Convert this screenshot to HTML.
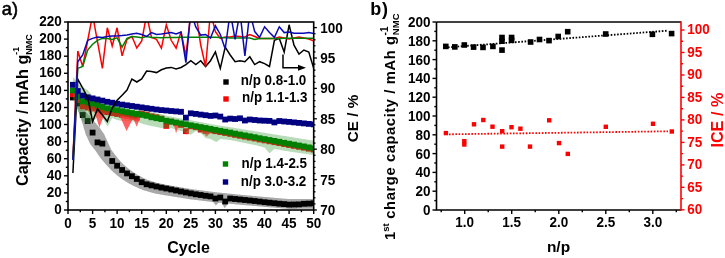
<!DOCTYPE html><html><head><meta charset="utf-8"><style>html,body{margin:0;padding:0;background:#fff;}svg{display:block;will-change:transform;}text{font-family:"Liberation Sans",sans-serif;}</style></head><body>
<svg width="725" height="258" viewBox="0 0 725 258">
<rect width="725" height="258" fill="#fff"/>
<defs><clipPath id="ca"><rect x="68.0" y="22.0" width="245.7" height="188.0"/></clipPath></defs>
<g clip-path="url(#ca)">
<polygon points="79.6,103.1 80.2,104.0 80.9,104.8 81.5,105.7 82.1,106.6 82.7,107.5 83.4,108.4 84.0,109.2 84.6,110.1 85.2,111.0 85.8,111.8 86.5,112.5 87.1,113.2 87.8,114.0 88.4,114.7 89.1,115.5 89.8,116.2 90.4,117.0 91.1,117.7 91.8,118.5 92.5,119.4 93.2,120.3 94.0,121.1 94.7,122.0 95.4,122.8 96.1,123.6 96.8,124.5 97.5,125.3 98.2,126.2 98.9,126.9 99.5,127.6 100.0,128.2 100.5,128.9 101.0,129.6 101.5,130.4 102.1,131.2 102.6,132.0 103.1,132.7 103.7,133.5 104.1,134.1 104.4,134.6 104.5,135.0 104.7,135.6 105.1,136.3 105.4,137.0 105.7,137.7 106.1,138.5 106.4,139.2 106.8,139.9 107.1,140.7 107.6,141.6 108.0,142.5 108.4,143.4 108.8,144.2 109.1,145.0 109.5,145.8 109.8,146.6 110.2,147.3 110.5,148.1 110.9,148.9 111.1,149.6 111.5,150.1 112.0,150.7 112.4,151.3 112.9,151.9 113.4,152.6 113.8,153.2 114.3,153.8 114.8,154.4 115.2,155.0 115.6,155.6 116.1,156.1 116.5,156.6 117.0,157.2 117.5,157.8 117.9,158.4 118.4,158.9 118.9,159.5 119.3,160.1 119.8,160.6 120.2,161.1 120.6,161.5 121.1,162.0 121.5,162.4 122.0,162.9 122.5,163.4 123.0,163.9 123.5,164.4 124.0,164.8 124.5,165.3 124.9,165.7 125.2,166.0 125.7,166.3 126.2,166.7 126.7,167.1 127.2,167.5 127.7,167.9 128.1,168.3 128.6,168.7 129.1,169.1 129.5,169.5 129.9,169.8 130.4,170.1 130.9,170.4 131.4,170.8 131.9,171.1 132.4,171.5 132.9,171.8 133.4,172.2 133.8,172.5 134.2,172.8 134.6,173.0 135.1,173.3 135.6,173.6 136.1,173.9 136.6,174.2 137.0,174.5 137.5,174.8 138.0,175.1 138.5,175.3 138.9,175.6 139.3,175.8 139.8,176.0 140.3,176.3 140.8,176.6 141.3,176.8 141.7,177.1 142.2,177.3 142.7,177.6 143.2,177.8 143.6,178.0 144.0,178.2 144.5,178.4 144.9,178.6 145.4,178.8 145.9,179.1 146.4,179.3 146.9,179.5 147.4,179.7 147.8,179.9 148.2,180.1 148.5,180.2 149.0,180.3 149.4,180.4 149.9,180.6 150.4,180.8 150.9,180.9 151.4,181.1 151.9,181.2 152.4,181.4 152.9,181.5 153.4,181.7 153.9,181.8 154.4,182.0 154.9,182.2 155.4,182.3 155.8,182.5 156.3,182.6 156.8,182.8 157.3,182.9 157.6,183.0 157.9,183.1 158.4,183.2 158.9,183.3 159.3,183.4 159.8,183.5 160.3,183.6 160.8,183.7 161.3,183.8 161.8,183.9 162.3,184.0 162.8,184.1 163.3,184.2 163.8,184.3 164.3,184.4 164.8,184.5 165.3,184.6 165.7,184.7 166.2,184.8 166.7,184.9 167.1,185.0 167.6,185.1 168.0,185.1 168.5,185.2 169.0,185.3 169.5,185.4 170.0,185.5 170.5,185.5 171.0,185.6 171.5,185.7 172.0,185.8 172.4,185.9 172.9,186.0 173.4,186.0 173.9,186.1 174.4,186.2 174.9,186.3 175.4,186.4 175.9,186.5 176.4,186.5 176.9,186.6 177.4,186.7 177.9,186.8 178.3,186.9 178.8,187.0 179.3,187.0 179.8,187.1 180.3,187.2 180.8,187.3 181.3,187.4 181.8,187.5 182.3,187.5 182.8,187.6 183.3,187.7 183.8,187.8 184.2,187.9 184.7,188.0 185.2,188.0 185.7,188.1 186.2,188.2 186.7,188.3 187.2,188.4 187.7,188.5 188.2,188.5 188.7,188.6 189.2,188.7 189.7,188.8 190.1,188.9 190.6,188.9 191.1,189.0 191.5,189.1 192.0,189.2 192.4,189.2 192.9,189.3 193.4,189.3 193.9,189.4 194.4,189.5 194.9,189.5 195.4,189.6 195.9,189.7 196.4,189.7 196.8,189.8 197.3,189.8 197.8,189.9 198.3,190.0 198.8,190.0 199.3,190.1 199.8,190.2 200.3,190.2 200.8,190.3 201.3,190.3 201.8,190.4 202.3,190.5 202.7,190.5 203.2,190.6 203.7,190.7 204.2,190.7 204.7,190.8 205.2,190.9 205.7,190.9 206.2,191.0 206.7,191.0 207.2,191.1 207.7,191.2 208.1,191.2 208.6,191.3 209.1,191.4 209.6,191.4 210.1,191.5 210.6,191.5 211.1,191.6 211.6,191.7 212.1,191.7 212.6,191.8 213.1,191.9 213.6,191.9 214.0,192.0 214.5,192.0 215.0,192.1 215.5,192.2 216.0,192.2 216.4,192.3 216.9,192.3 217.4,192.4 217.9,192.4 218.3,192.5 218.8,192.5 219.3,192.6 219.8,192.6 220.3,192.7 220.8,192.7 221.3,192.8 221.8,192.8 222.3,192.9 222.8,192.9 223.3,193.0 223.7,193.0 224.2,193.1 224.7,193.1 225.2,193.2 225.7,193.2 226.2,193.3 226.7,193.3 227.2,193.4 227.7,193.4 228.2,193.5 228.7,193.5 229.2,193.6 229.6,193.6 230.1,193.7 230.6,193.7 231.1,193.8 231.6,193.8 232.1,193.9 232.6,193.9 233.1,194.0 233.6,194.0 234.1,194.1 234.6,194.1 235.0,194.2 235.5,194.2 236.0,194.3 236.5,194.3 237.0,194.4 237.5,194.4 238.0,194.5 238.5,194.5 239.0,194.6 239.5,194.6 240.0,194.7 240.4,194.7 240.9,194.8 241.4,194.8 241.9,194.9 242.4,194.9 242.9,195.0 243.3,195.0 243.8,195.1 244.3,195.1 244.8,195.1 245.3,195.2 245.8,195.2 246.3,195.3 246.8,195.3 247.3,195.4 247.8,195.4 248.3,195.5 248.8,195.5 249.2,195.5 249.7,195.6 250.2,195.6 250.7,195.7 251.2,195.7 251.7,195.8 252.2,195.8 252.7,195.9 253.2,195.9 253.7,195.9 254.2,196.0 254.6,196.0 255.1,196.1 255.6,196.1 256.1,196.2 256.6,196.2 257.1,196.3 257.6,196.3 258.1,196.3 258.6,196.4 259.1,196.4 259.6,196.5 260.1,196.5 260.5,196.6 261.0,196.6 261.5,196.7 262.0,196.7 262.5,196.7 263.0,196.8 263.5,196.8 264.0,196.9 264.5,196.9 265.0,197.0 265.4,197.0 265.9,197.1 266.4,197.1 266.9,197.1 267.4,197.2 267.9,197.2 268.4,197.3 268.9,197.3 269.4,197.3 269.9,197.4 270.4,197.4 270.8,197.5 271.3,197.5 271.8,197.6 272.3,197.6 272.8,197.6 273.3,197.7 273.8,197.7 274.3,197.8 274.8,197.8 275.3,197.9 275.8,197.9 276.2,197.9 276.7,198.0 277.2,198.0 277.7,198.1 278.2,198.1 278.7,198.2 279.2,198.2 279.7,198.2 280.2,198.3 280.7,198.3 281.2,198.4 281.7,198.4 282.1,198.5 282.6,198.5 283.1,198.5 283.6,198.6 284.1,198.6 284.6,198.7 285.1,198.7 285.6,198.8 286.1,198.8 286.6,198.8 287.1,198.9 287.5,198.9 288.0,199.0 288.5,199.0 289.0,199.0 289.3,199.1 289.7,199.1 290.1,199.1 290.6,199.1 291.1,199.1 291.6,199.1 292.1,199.1 292.6,199.1 293.1,199.1 293.6,199.1 294.0,199.1 294.5,199.1 295.0,199.1 295.5,199.1 296.0,199.1 296.5,199.1 297.0,199.1 297.5,199.1 298.0,199.1 298.5,199.1 299.0,199.1 299.4,199.1 299.9,199.1 300.4,199.1 300.9,199.1 301.4,199.1 301.9,199.1 302.4,199.1 302.9,199.1 303.4,199.1 303.9,199.1 304.4,199.1 304.9,199.1 305.3,199.1 305.8,199.1 306.3,199.1 306.8,199.1 307.3,199.1 307.8,199.1 308.3,199.1 308.8,199.1 309.3,199.1 309.8,199.1 310.3,199.1 310.8,199.1 311.2,199.1 311.7,199.1 312.2,199.1 312.7,199.1 313.2,199.1 313.7,199.1 313.7,208.8 313.2,208.8 312.7,208.8 312.2,208.8 311.7,208.8 311.2,208.8 310.8,208.8 310.3,208.8 309.8,208.8 309.3,208.8 308.8,208.8 308.3,208.8 307.8,208.8 307.3,208.8 306.8,208.8 306.3,208.8 305.8,208.8 305.3,208.8 304.9,208.8 304.4,208.8 303.9,208.8 303.4,208.8 302.9,208.8 302.4,208.8 301.9,208.8 301.4,208.8 300.9,208.8 300.4,208.8 299.9,208.8 299.4,208.8 299.0,208.8 298.5,208.8 298.0,208.8 297.5,208.8 297.0,208.9 296.5,208.9 296.0,208.9 295.5,208.9 295.0,208.9 294.5,208.9 294.0,208.9 293.6,208.9 293.1,208.9 292.6,208.9 292.1,208.9 291.6,208.9 291.1,208.9 290.6,208.9 290.1,208.9 289.5,208.9 288.9,208.9 288.3,208.8 287.7,208.8 287.2,208.7 286.7,208.7 286.2,208.7 285.7,208.6 285.2,208.6 284.7,208.5 284.3,208.5 283.8,208.5 283.3,208.4 282.8,208.4 282.3,208.3 281.8,208.3 281.3,208.2 280.8,208.2 280.3,208.2 279.8,208.1 279.3,208.1 278.9,208.0 278.4,208.0 277.9,208.0 277.4,207.9 276.9,207.9 276.4,207.8 275.9,207.8 275.4,207.8 274.9,207.7 274.4,207.7 273.9,207.6 273.4,207.6 273.0,207.6 272.5,207.5 272.0,207.5 271.5,207.4 271.0,207.4 270.5,207.4 270.0,207.3 269.5,207.3 269.0,207.2 268.5,207.2 268.0,207.2 267.5,207.1 267.1,207.1 266.6,207.0 266.1,207.0 265.6,207.0 265.1,206.9 264.6,206.9 264.1,206.8 263.6,206.8 263.1,206.7 262.6,206.7 262.1,206.7 261.6,206.6 261.1,206.6 260.6,206.5 260.2,206.5 259.7,206.4 259.2,206.4 258.7,206.4 258.2,206.3 257.7,206.3 257.2,206.2 256.7,206.2 256.2,206.1 255.7,206.1 255.2,206.1 254.7,206.0 254.3,206.0 253.8,205.9 253.3,205.9 252.8,205.9 252.3,205.8 251.8,205.8 251.3,205.7 250.8,205.7 250.3,205.6 249.8,205.6 249.3,205.6 248.8,205.5 248.4,205.5 247.9,205.4 247.4,205.4 246.9,205.3 246.4,205.3 245.9,205.3 245.4,205.2 244.9,205.2 244.4,205.1 243.9,205.1 243.4,205.0 242.9,205.0 242.5,205.0 242.0,204.9 241.5,204.9 241.0,204.8 240.5,204.8 240.0,204.7 239.5,204.7 239.0,204.6 238.5,204.6 238.0,204.6 237.5,204.5 237.0,204.5 236.5,204.4 236.0,204.4 235.5,204.3 235.0,204.3 234.5,204.2 234.0,204.2 233.5,204.1 233.1,204.1 232.6,204.0 232.1,204.0 231.6,203.9 231.1,203.9 230.6,203.8 230.1,203.8 229.6,203.7 229.1,203.7 228.6,203.6 228.1,203.6 227.6,203.5 227.2,203.5 226.7,203.4 226.2,203.4 225.7,203.3 225.2,203.3 224.7,203.2 224.2,203.2 223.7,203.1 223.2,203.1 222.7,203.0 222.2,203.0 221.7,203.0 221.3,202.9 220.8,202.9 220.3,202.8 219.8,202.8 219.3,202.7 218.8,202.7 218.3,202.6 217.8,202.6 217.3,202.5 216.8,202.5 216.3,202.4 215.8,202.4 215.3,202.3 214.8,202.3 214.2,202.2 213.7,202.1 213.2,202.1 212.7,202.0 212.2,202.0 211.8,201.9 211.3,201.8 210.8,201.8 210.3,201.7 209.8,201.7 209.3,201.6 208.8,201.5 208.3,201.5 207.8,201.4 207.3,201.4 206.8,201.3 206.3,201.3 205.9,201.2 205.4,201.1 204.9,201.1 204.4,201.0 203.9,201.0 203.4,200.9 202.9,200.8 202.4,200.8 201.9,200.7 201.4,200.7 200.9,200.6 200.4,200.5 199.9,200.5 199.5,200.4 199.0,200.4 198.5,200.3 198.0,200.2 197.5,200.2 197.0,200.1 196.5,200.1 196.0,200.0 195.5,200.0 195.0,199.9 194.5,199.8 194.0,199.8 193.6,199.7 193.1,199.7 192.6,199.6 192.1,199.5 191.6,199.5 191.1,199.4 190.6,199.4 190.0,199.3 189.4,199.2 188.9,199.1 188.4,199.0 187.9,199.0 187.4,198.9 186.9,198.8 186.4,198.7 185.9,198.6 185.5,198.6 185.0,198.5 184.5,198.4 184.0,198.3 183.5,198.2 183.0,198.2 182.5,198.1 182.0,198.0 181.5,197.9 181.0,197.8 180.5,197.8 180.0,197.7 179.5,197.6 179.1,197.5 178.6,197.4 178.1,197.4 177.6,197.3 177.1,197.2 176.6,197.1 176.1,197.1 175.6,197.0 175.1,196.9 174.6,196.8 174.1,196.7 173.6,196.7 173.1,196.6 172.7,196.5 172.2,196.4 171.7,196.3 171.2,196.3 170.7,196.2 170.2,196.1 169.7,196.0 169.2,195.9 168.7,195.9 168.2,195.8 167.7,195.7 167.2,195.6 166.7,195.6 166.3,195.5 165.7,195.4 165.1,195.3 164.6,195.2 164.0,195.1 163.5,195.0 163.0,194.9 162.5,194.8 162.1,194.8 161.6,194.7 161.1,194.6 160.6,194.5 160.1,194.4 159.6,194.3 159.1,194.2 158.6,194.2 158.1,194.1 157.6,194.0 157.1,193.9 156.6,193.8 156.1,193.7 155.5,193.6 154.8,193.5 154.1,193.3 153.5,193.1 153.0,193.0 152.5,192.8 152.0,192.7 151.5,192.5 151.0,192.4 150.5,192.3 150.0,192.1 149.5,192.0 149.0,191.8 148.5,191.7 148.0,191.6 147.5,191.4 147.0,191.3 146.5,191.1 146.0,191.0 145.5,190.8 144.9,190.7 144.2,190.4 143.5,190.2 142.8,189.9 142.3,189.7 141.8,189.5 141.3,189.3 140.8,189.1 140.3,188.9 139.8,188.7 139.3,188.5 138.6,188.2 138.0,187.9 137.4,187.6 136.9,187.4 136.4,187.2 135.9,186.9 135.4,186.7 134.9,186.5 134.4,186.2 133.8,186.0 133.2,185.7 132.5,185.3 132.0,185.0 131.4,184.7 130.9,184.5 130.4,184.2 129.9,183.9 129.4,183.7 128.9,183.4 128.3,183.1 127.7,182.7 127.0,182.3 126.4,181.9 125.9,181.6 125.4,181.3 124.9,180.9 124.4,180.6 123.9,180.3 123.3,180.0 122.8,179.6 122.1,179.2 121.5,178.7 120.9,178.2 120.4,177.9 119.9,177.5 119.4,177.1 118.9,176.7 118.4,176.3 117.9,176.0 117.3,175.5 116.6,174.9 115.9,174.3 115.3,173.8 114.8,173.3 114.3,172.9 113.7,172.4 113.2,171.9 112.7,171.5 112.2,171.0 111.6,170.5 111.0,169.9 110.4,169.2 109.8,168.6 109.3,168.0 108.8,167.5 108.3,167.0 107.8,166.4 107.3,165.9 106.8,165.3 106.2,164.8 105.7,164.1 105.1,163.4 104.5,162.8 104.0,162.2 103.5,161.6 103.0,161.0 102.5,160.4 102.0,159.8 101.5,159.3 100.9,158.6 100.3,157.8 99.7,156.9 99.2,156.1 98.7,155.4 98.2,154.7 97.7,154.0 97.2,153.3 96.8,152.6 96.3,151.9 95.9,151.3 95.5,150.7 95.2,150.3 94.7,149.8 94.3,149.2 93.8,148.5 93.3,147.9 92.8,147.3 92.3,146.7 91.9,146.1 91.2,145.3 90.5,144.4 89.9,143.2 89.4,142.2 89.0,141.4 88.6,140.5 88.2,139.7 87.8,138.8 87.4,138.0 87.0,137.1 86.5,136.2 86.0,135.2 85.6,134.0 85.3,132.9 85.0,131.8 84.7,130.8 84.3,129.7 84.0,128.7 83.7,127.7 83.4,126.6 83.1,125.6 82.8,124.6 82.6,123.8 82.3,122.9 81.9,121.9 81.6,121.0 81.3,120.0 81.0,119.1 80.7,118.1 80.3,117.2 80.0,116.2 79.7,115.2 79.3,114.1 78.9,113.1 78.6,112.1 78.2,111.0 77.8,110.0 77.5,109.0 77.1,108.0 76.8,107.0 76.4,105.9 76.1,104.9" fill="#a8a8a8"/>
<polygon points="212.0,200.4 219.8,201.2 215.9,205.5" fill="#a8a8a8"/>
<polygon points="220.8,201.4 228.7,202.2 224.8,208.2" fill="#a8a8a8"/>
<rect x="70.0" y="94.6" width="5.8" height="5.8" fill="#000"/>
<rect x="74.9" y="100.6" width="5.8" height="5.8" fill="#000"/>
<rect x="79.8" y="112.1" width="5.8" height="5.8" fill="#000"/>
<rect x="84.8" y="118.1" width="5.8" height="5.8" fill="#000"/>
<rect x="89.7" y="129.7" width="5.8" height="5.8" fill="#000"/>
<rect x="94.6" y="139.5" width="5.8" height="5.8" fill="#000"/>
<rect x="99.5" y="140.7" width="5.8" height="5.8" fill="#000"/>
<rect x="104.4" y="150.5" width="5.8" height="5.8" fill="#000"/>
<rect x="109.3" y="158.1" width="5.8" height="5.8" fill="#000"/>
<rect x="114.2" y="162.8" width="5.8" height="5.8" fill="#000"/>
<rect x="119.2" y="167.1" width="5.8" height="5.8" fill="#000"/>
<rect x="124.1" y="170.5" width="5.8" height="5.8" fill="#000"/>
<rect x="129.0" y="173.3" width="5.8" height="5.8" fill="#000"/>
<rect x="133.9" y="176.1" width="5.8" height="5.8" fill="#000"/>
<rect x="138.8" y="179.3" width="5.8" height="5.8" fill="#000"/>
<rect x="143.7" y="181.4" width="5.8" height="5.8" fill="#000"/>
<rect x="148.6" y="182.5" width="5.8" height="5.8" fill="#000"/>
<rect x="153.6" y="183.6" width="5.8" height="5.8" fill="#000"/>
<rect x="158.5" y="184.7" width="5.8" height="5.8" fill="#000"/>
<rect x="163.4" y="185.6" width="5.8" height="5.8" fill="#000"/>
<rect x="168.3" y="186.6" width="5.8" height="5.8" fill="#000"/>
<rect x="173.2" y="187.6" width="5.8" height="5.8" fill="#000"/>
<rect x="178.1" y="188.6" width="5.8" height="5.8" fill="#000"/>
<rect x="183.0" y="189.6" width="5.8" height="5.8" fill="#000"/>
<rect x="187.9" y="190.5" width="5.8" height="5.8" fill="#000"/>
<rect x="192.9" y="191.4" width="5.8" height="5.8" fill="#000"/>
<rect x="197.8" y="192.1" width="5.8" height="5.8" fill="#000"/>
<rect x="202.7" y="192.9" width="5.8" height="5.8" fill="#000"/>
<rect x="207.6" y="193.5" width="5.8" height="5.8" fill="#000"/>
<rect x="212.5" y="195.6" width="5.8" height="5.8" fill="#000"/>
<rect x="217.4" y="194.6" width="5.8" height="5.8" fill="#000"/>
<rect x="222.3" y="198.6" width="5.8" height="5.8" fill="#000"/>
<rect x="227.3" y="195.6" width="5.8" height="5.8" fill="#000"/>
<rect x="232.2" y="196.1" width="5.8" height="5.8" fill="#000"/>
<rect x="237.1" y="196.6" width="5.8" height="5.8" fill="#000"/>
<rect x="242.0" y="197.1" width="5.8" height="5.8" fill="#000"/>
<rect x="246.9" y="197.6" width="5.8" height="5.8" fill="#000"/>
<rect x="251.8" y="198.1" width="5.8" height="5.8" fill="#000"/>
<rect x="256.7" y="198.7" width="5.8" height="5.8" fill="#000"/>
<rect x="261.7" y="199.3" width="5.8" height="5.8" fill="#000"/>
<rect x="266.6" y="199.8" width="5.8" height="5.8" fill="#000"/>
<rect x="271.5" y="200.3" width="5.8" height="5.8" fill="#000"/>
<rect x="276.4" y="200.8" width="5.8" height="5.8" fill="#000"/>
<rect x="281.3" y="201.2" width="5.8" height="5.8" fill="#000"/>
<rect x="286.2" y="201.7" width="5.8" height="5.8" fill="#000"/>
<rect x="291.1" y="201.6" width="5.8" height="5.8" fill="#000"/>
<rect x="296.1" y="201.5" width="5.8" height="5.8" fill="#000"/>
<rect x="301.0" y="200.9" width="5.8" height="5.8" fill="#000"/>
<rect x="305.9" y="200.7" width="5.8" height="5.8" fill="#000"/>
<rect x="310.8" y="200.4" width="5.8" height="5.8" fill="#000"/>
<rect x="70.0" y="91.4" width="5.8" height="5.8" fill="#f00000"/>
<rect x="74.9" y="97.1" width="5.8" height="5.8" fill="#f00000"/>
<rect x="79.8" y="103.4" width="5.8" height="5.8" fill="#f00000"/>
<rect x="84.8" y="104.7" width="5.8" height="5.8" fill="#f00000"/>
<rect x="89.7" y="105.6" width="5.8" height="5.8" fill="#f00000"/>
<rect x="94.6" y="107.1" width="5.8" height="5.8" fill="#f00000"/>
<rect x="99.5" y="108.9" width="5.8" height="5.8" fill="#f00000"/>
<rect x="104.4" y="109.3" width="5.8" height="5.8" fill="#f00000"/>
<rect x="109.3" y="110.2" width="5.8" height="5.8" fill="#f00000"/>
<rect x="114.2" y="111.1" width="5.8" height="5.8" fill="#f00000"/>
<rect x="119.2" y="112.1" width="5.8" height="5.8" fill="#f00000"/>
<rect x="124.1" y="113.0" width="5.8" height="5.8" fill="#f00000"/>
<rect x="129.0" y="113.9" width="5.8" height="5.8" fill="#f00000"/>
<rect x="133.9" y="114.8" width="5.8" height="5.8" fill="#f00000"/>
<rect x="138.8" y="110.8" width="5.8" height="5.8" fill="#f00000"/>
<rect x="143.7" y="111.7" width="5.8" height="5.8" fill="#f00000"/>
<rect x="148.6" y="113.4" width="5.8" height="5.8" fill="#f00000"/>
<rect x="153.6" y="114.3" width="5.8" height="5.8" fill="#f00000"/>
<rect x="158.5" y="115.7" width="5.8" height="5.8" fill="#f00000"/>
<rect x="163.4" y="123.0" width="5.8" height="5.8" fill="#f00000"/>
<rect x="168.3" y="118.7" width="5.8" height="5.8" fill="#f00000"/>
<rect x="173.2" y="120.1" width="5.8" height="5.8" fill="#f00000"/>
<rect x="178.1" y="122.0" width="5.8" height="5.8" fill="#f00000"/>
<rect x="183.0" y="128.3" width="5.8" height="5.8" fill="#f00000"/>
<rect x="187.9" y="123.4" width="5.8" height="5.8" fill="#f00000"/>
<rect x="192.9" y="124.3" width="5.8" height="5.8" fill="#f00000"/>
<rect x="197.8" y="126.7" width="5.8" height="5.8" fill="#f00000"/>
<rect x="202.7" y="128.1" width="5.8" height="5.8" fill="#f00000"/>
<rect x="207.6" y="127.5" width="5.8" height="5.8" fill="#f00000"/>
<rect x="212.5" y="128.3" width="5.8" height="5.8" fill="#f00000"/>
<rect x="217.4" y="129.2" width="5.8" height="5.8" fill="#f00000"/>
<rect x="222.3" y="130.1" width="5.8" height="5.8" fill="#f00000"/>
<rect x="227.3" y="131.0" width="5.8" height="5.8" fill="#f00000"/>
<rect x="232.2" y="132.0" width="5.8" height="5.8" fill="#f00000"/>
<rect x="237.1" y="132.9" width="5.8" height="5.8" fill="#f00000"/>
<rect x="242.0" y="133.8" width="5.8" height="5.8" fill="#f00000"/>
<rect x="246.9" y="134.7" width="5.8" height="5.8" fill="#f00000"/>
<rect x="251.8" y="135.6" width="5.8" height="5.8" fill="#f00000"/>
<rect x="256.7" y="136.6" width="5.8" height="5.8" fill="#f00000"/>
<rect x="261.7" y="137.5" width="5.8" height="5.8" fill="#f00000"/>
<rect x="266.6" y="138.4" width="5.8" height="5.8" fill="#f00000"/>
<rect x="271.5" y="139.3" width="5.8" height="5.8" fill="#f00000"/>
<rect x="276.4" y="140.2" width="5.8" height="5.8" fill="#f00000"/>
<rect x="281.3" y="141.2" width="5.8" height="5.8" fill="#f00000"/>
<rect x="286.2" y="142.1" width="5.8" height="5.8" fill="#f00000"/>
<rect x="291.1" y="143.0" width="5.8" height="5.8" fill="#f00000"/>
<rect x="296.1" y="143.9" width="5.8" height="5.8" fill="#f00000"/>
<rect x="301.0" y="144.8" width="5.8" height="5.8" fill="#f00000"/>
<rect x="305.9" y="145.8" width="5.8" height="5.8" fill="#f00000"/>
<rect x="310.8" y="146.7" width="5.8" height="5.8" fill="#f00000"/>
<polygon points="201.7,130.9 202.5,131.1 203.3,131.4 204.1,131.6 204.9,131.8 205.8,132.0 206.6,131.9 207.4,131.8 208.2,131.7 209.0,131.6 209.9,131.5 210.7,131.5 211.5,131.6 206.6,136.7" fill="#ff3b3b" fill-opacity="0.75"/>
<polygon points="184.5,130.3 184.9,130.9 185.3,131.4 185.7,131.9 186.1,132.1 186.5,131.7 186.9,131.2 187.3,130.8 187.7,130.4 188.1,130.0 188.6,129.6 189.0,129.2 189.4,128.8 186.9,135.0" fill="#ff3b3b" fill-opacity="0.75"/>
<polygon points="87.2,108.5 87.7,108.6 88.1,108.7 88.6,108.8 89.1,108.9 89.6,109.0 90.1,109.0 90.6,109.1 91.1,109.2 91.6,109.3 92.1,109.4 92.6,109.5 93.1,109.6 90.1,116.0" fill="#ff3b3b" fill-opacity="0.75"/>
<polygon points="72.9,77.0 74.1,78.5 75.4,80.0 76.6,82.0 77.8,84.0 79.1,84.8 80.3,85.5 81.5,86.2 82.7,87.0 84.0,87.8 85.2,88.5 86.4,89.2 87.7,90.0 88.9,91.5 90.1,93.0 91.3,94.5 92.6,96.0 93.8,96.7 95.0,97.6 96.3,98.7 97.5,100.0 98.7,100.5 99.9,100.9 101.2,101.3 102.4,101.8 103.6,102.2 104.9,102.6 106.1,103.0 107.3,103.4 107.6,103.5 108.5,103.6 109.8,103.9 111.0,104.1 112.2,104.3 113.5,104.6 114.7,104.8 115.9,105.0 117.1,105.2 118.4,105.5 119.6,105.7 120.8,105.9 122.1,106.2 123.3,106.4 124.5,106.6 125.7,106.9 127.0,107.1 128.2,107.3 129.4,107.6 130.7,107.8 131.9,108.0 133.1,108.2 134.3,108.5 135.6,108.7 136.8,108.9 138.0,109.2 139.3,109.4 140.5,109.6 141.7,109.9 142.9,110.1 144.2,110.3 145.4,110.5 146.6,110.8 147.9,111.2 149.1,111.5 150.3,111.9 151.5,112.3 152.8,112.5 154.0,112.8 155.2,113.0 156.5,113.2 157.7,113.4 158.9,113.7 160.1,113.9 161.4,114.1 162.6,114.5 163.8,114.9 165.1,115.3 166.3,115.7 167.5,115.9 168.7,116.1 170.0,116.4 171.2,116.6 172.4,116.8 173.7,117.0 174.9,117.3 176.1,117.5 177.3,117.7 178.6,118.0 179.8,118.2 181.0,118.4 182.3,118.7 183.5,118.9 184.7,119.1 185.9,119.3 187.2,119.6 188.4,119.8 189.6,120.0 190.8,120.3 192.1,120.5 193.3,120.7 194.5,121.0 195.8,121.2 197.0,121.4 198.2,121.6 199.4,121.9 200.7,122.1 201.9,122.3 203.1,122.6 204.4,122.8 205.6,123.0 206.8,123.3 208.0,123.5 209.3,123.7 210.5,123.9 211.7,124.2 213.0,124.4 214.2,124.6 215.4,124.9 216.4,125.0 216.6,125.1 217.9,125.3 219.1,125.5 220.3,125.7 221.6,125.9 222.8,126.1 224.0,126.3 225.2,126.5 226.5,126.6 227.7,126.8 228.9,127.0 230.2,127.2 231.4,127.4 232.6,127.6 233.8,127.8 235.1,128.0 236.3,128.2 237.5,128.4 238.8,128.6 240.0,128.8 241.2,129.0 242.4,129.2 243.7,129.4 244.9,129.6 246.1,129.8 247.4,130.0 248.6,130.2 249.8,130.4 251.0,130.6 252.3,130.8 253.5,131.0 254.7,131.2 256.0,131.4 257.2,131.6 258.4,131.8 259.6,132.0 260.9,132.2 262.1,132.4 263.3,132.6 264.6,132.8 265.8,133.0 267.0,133.2 268.2,133.4 269.5,133.6 270.7,133.8 271.9,134.0 273.2,134.2 274.4,134.4 275.6,134.6 276.8,134.8 278.1,135.0 279.3,135.2 280.5,135.4 281.8,135.5 283.0,135.7 284.2,135.9 285.4,136.1 286.7,136.3 287.9,136.5 289.1,136.7 290.4,136.9 291.6,137.1 292.8,137.3 294.0,137.5 295.3,137.7 296.5,137.9 297.7,138.1 299.0,138.3 300.2,138.5 301.4,138.7 302.6,138.9 303.9,139.1 305.1,139.3 306.3,139.5 307.6,139.7 308.8,139.9 310.0,140.1 311.2,140.3 312.5,140.5 313.7,140.7 313.7,155.0 312.5,154.8 311.2,154.7 310.0,154.5 308.8,154.3 307.6,154.1 306.3,153.9 305.1,153.8 303.9,153.6 302.6,153.4 301.4,153.2 300.2,153.1 299.0,152.9 297.7,152.7 296.5,152.6 295.3,152.4 294.0,152.2 292.8,152.0 291.6,151.8 290.4,151.7 289.1,151.5 287.9,151.3 286.7,151.1 285.4,150.9 284.2,150.7 283.0,150.5 281.8,150.2 280.5,150.0 279.3,149.8 278.1,149.6 276.8,149.4 275.6,149.2 274.4,149.0 273.2,150.1 271.9,151.2 270.7,152.3 269.5,153.4 268.2,151.9 267.0,150.4 265.8,149.0 264.6,147.5 263.3,147.2 262.1,146.9 260.9,146.6 259.6,146.2 258.4,145.9 257.2,145.6 256.0,145.3 254.7,145.0 253.5,144.8 252.3,144.5 251.0,144.2 249.8,144.0 248.6,143.8 247.4,143.5 246.1,143.2 244.9,143.0 243.7,142.8 242.4,142.5 241.2,142.2 240.0,142.0 238.8,141.8 237.5,141.5 236.3,141.2 235.1,141.0 233.8,140.8 232.6,140.5 231.4,140.2 230.2,140.0 228.9,139.9 227.7,139.8 226.5,139.6 225.2,139.5 224.0,139.4 222.8,139.2 221.6,139.1 220.3,139.0 219.1,139.9 217.9,140.9 216.6,141.8 216.4,142.0 215.4,141.5 214.2,140.9 213.0,140.2 211.7,139.6 210.5,139.0 209.3,138.8 208.0,138.5 206.8,138.2 205.6,138.0 204.4,136.8 203.1,135.5 201.9,134.2 200.7,133.0 199.4,132.5 198.2,132.0 197.0,131.5 195.8,131.0 194.5,131.9 193.3,132.8 192.1,133.8 190.8,134.7 189.6,134.2 188.4,133.8 187.2,133.3 185.9,132.8 184.7,132.4 183.5,131.9 182.3,131.5 181.0,131.0 179.8,130.6 178.6,130.2 177.3,129.9 176.1,129.5 174.9,129.1 173.7,128.8 172.4,128.4 171.2,128.0 170.0,128.0 168.7,128.0 167.5,128.0 166.3,128.0 165.1,128.0 163.8,128.0 162.6,128.0 161.4,128.0 160.1,127.8 158.9,127.5 157.7,127.2 156.5,127.0 155.2,126.8 154.0,126.5 152.8,126.2 151.5,126.0 150.3,125.8 149.1,125.5 147.9,125.2 146.6,125.0 145.4,124.6 144.2,124.2 142.9,123.9 141.7,123.5 140.5,123.1 139.3,122.8 138.0,122.4 136.8,122.0 135.6,121.8 134.3,121.5 133.1,121.2 131.9,121.0 130.7,121.0 129.4,121.0 128.2,121.0 127.0,121.0 125.7,121.0 124.5,121.0 123.3,121.0 122.1,121.0 120.8,120.8 119.6,120.5 118.4,120.2 117.1,120.0 115.9,119.5 114.7,119.0 113.5,118.5 112.2,118.0 111.0,120.3 109.8,122.6 108.5,124.9 107.6,126.6 107.3,126.1 106.1,124.1 104.9,122.1 103.6,120.0 102.4,118.0 101.2,117.8 99.9,117.5 98.7,117.2 97.5,117.0 96.3,118.2 95.0,119.5 93.8,120.8 92.6,122.0 91.3,122.5 90.1,123.0 88.9,123.5 87.7,124.0 86.4,123.2 85.2,122.5 84.0,121.8 82.7,121.0 81.5,118.2 80.3,115.5 79.1,112.8 77.8,110.0 76.6,107.5 75.4,105.0 74.1,102.5 72.9,100.0" fill="#3a9a3a" fill-opacity="0.36"/>
<polygon points="94.0,109.9 94.9,110.2 95.8,110.5 96.7,110.8 97.6,111.1 98.5,111.4 99.4,111.7 100.4,112.0 101.3,112.4 102.2,112.7 103.1,112.9 104.0,112.9 104.9,113.0 99.4,127.5" fill="#ff3b3b" fill-opacity="0.8"/>
<polygon points="119.6,115.5 120.7,115.7 121.9,115.9 123.0,116.2 124.2,116.4 125.3,116.6 126.5,116.8 127.6,117.0 128.8,117.2 129.9,117.4 131.1,117.7 132.2,117.9 133.4,118.1 126.5,131.0" fill="#ff3b3b" fill-opacity="0.8"/>
<polygon points="132.9,118.0 133.5,118.1 134.2,118.2 134.8,118.4 135.5,118.5 136.1,118.6 136.8,118.7 137.5,118.2 138.1,117.6 138.8,117.1 139.4,116.6 140.1,116.0 140.7,115.5 136.8,126.8" fill="#ff3b3b" fill-opacity="0.8"/>
<polygon points="173.4,123.2 173.9,123.4 174.3,123.5 174.8,123.6 175.2,123.7 175.7,123.9 176.1,124.0 176.6,124.2 177.0,124.4 177.5,124.5 177.9,124.7 178.4,124.9 178.8,125.1 176.1,133.3" fill="#ff3b3b" fill-opacity="0.8"/>
<rect x="70.0" y="87.5" width="5.8" height="5.8" fill="#008000"/>
<rect x="74.9" y="93.6" width="5.8" height="5.8" fill="#008000"/>
<rect x="79.8" y="98.4" width="5.8" height="5.8" fill="#008000"/>
<rect x="84.8" y="99.7" width="5.8" height="5.8" fill="#008000"/>
<rect x="89.7" y="100.6" width="5.8" height="5.8" fill="#008000"/>
<rect x="94.6" y="102.1" width="5.8" height="5.8" fill="#008000"/>
<rect x="99.5" y="103.9" width="5.8" height="5.8" fill="#008000"/>
<rect x="104.4" y="105.5" width="5.8" height="5.8" fill="#008000"/>
<rect x="109.3" y="106.4" width="5.8" height="5.8" fill="#008000"/>
<rect x="114.2" y="107.3" width="5.8" height="5.8" fill="#008000"/>
<rect x="119.2" y="108.3" width="5.8" height="5.8" fill="#008000"/>
<rect x="124.1" y="109.2" width="5.8" height="5.8" fill="#008000"/>
<rect x="129.0" y="110.1" width="5.8" height="5.8" fill="#008000"/>
<rect x="133.9" y="111.0" width="5.8" height="5.8" fill="#008000"/>
<rect x="138.8" y="112.0" width="5.8" height="5.8" fill="#008000"/>
<rect x="143.7" y="112.9" width="5.8" height="5.8" fill="#008000"/>
<rect x="148.6" y="114.4" width="5.8" height="5.8" fill="#008000"/>
<rect x="153.6" y="115.3" width="5.8" height="5.8" fill="#008000"/>
<rect x="158.5" y="116.2" width="5.8" height="5.8" fill="#008000"/>
<rect x="163.4" y="117.8" width="5.8" height="5.8" fill="#008000"/>
<rect x="168.3" y="118.7" width="5.8" height="5.8" fill="#008000"/>
<rect x="173.2" y="119.6" width="5.8" height="5.8" fill="#008000"/>
<rect x="178.1" y="120.5" width="5.8" height="5.8" fill="#008000"/>
<rect x="183.0" y="121.4" width="5.8" height="5.8" fill="#008000"/>
<rect x="187.9" y="122.4" width="5.8" height="5.8" fill="#008000"/>
<rect x="192.9" y="123.3" width="5.8" height="5.8" fill="#008000"/>
<rect x="197.8" y="124.2" width="5.8" height="5.8" fill="#008000"/>
<rect x="202.7" y="125.1" width="5.8" height="5.8" fill="#008000"/>
<rect x="207.6" y="126.0" width="5.8" height="5.8" fill="#008000"/>
<rect x="212.5" y="127.0" width="5.8" height="5.8" fill="#008000"/>
<rect x="217.4" y="127.9" width="5.8" height="5.8" fill="#008000"/>
<rect x="222.3" y="128.8" width="5.8" height="5.8" fill="#008000"/>
<rect x="227.3" y="129.7" width="5.8" height="5.8" fill="#008000"/>
<rect x="232.2" y="130.7" width="5.8" height="5.8" fill="#008000"/>
<rect x="237.1" y="131.6" width="5.8" height="5.8" fill="#008000"/>
<rect x="242.0" y="132.5" width="5.8" height="5.8" fill="#008000"/>
<rect x="246.9" y="133.4" width="5.8" height="5.8" fill="#008000"/>
<rect x="251.8" y="134.3" width="5.8" height="5.8" fill="#008000"/>
<rect x="256.7" y="135.3" width="5.8" height="5.8" fill="#008000"/>
<rect x="261.7" y="136.2" width="5.8" height="5.8" fill="#008000"/>
<rect x="266.6" y="137.1" width="5.8" height="5.8" fill="#008000"/>
<rect x="271.5" y="138.0" width="5.8" height="5.8" fill="#008000"/>
<rect x="276.4" y="138.9" width="5.8" height="5.8" fill="#008000"/>
<rect x="281.3" y="139.9" width="5.8" height="5.8" fill="#008000"/>
<rect x="286.2" y="140.8" width="5.8" height="5.8" fill="#008000"/>
<rect x="291.1" y="141.7" width="5.8" height="5.8" fill="#008000"/>
<rect x="296.1" y="142.6" width="5.8" height="5.8" fill="#008000"/>
<rect x="301.0" y="143.5" width="5.8" height="5.8" fill="#008000"/>
<rect x="305.9" y="144.5" width="5.8" height="5.8" fill="#008000"/>
<rect x="310.8" y="145.4" width="5.8" height="5.8" fill="#008000"/>
<rect x="70.0" y="81.9" width="5.8" height="5.8" fill="#000080"/>
<rect x="74.9" y="88.1" width="5.8" height="5.8" fill="#000080"/>
<rect x="79.8" y="92.7" width="5.8" height="5.8" fill="#000080"/>
<rect x="84.8" y="94.4" width="5.8" height="5.8" fill="#000080"/>
<rect x="89.7" y="95.5" width="5.8" height="5.8" fill="#000080"/>
<rect x="94.6" y="96.6" width="5.8" height="5.8" fill="#000080"/>
<rect x="99.5" y="97.7" width="5.8" height="5.8" fill="#000080"/>
<rect x="104.4" y="98.9" width="5.8" height="5.8" fill="#000080"/>
<rect x="109.3" y="99.8" width="5.8" height="5.8" fill="#000080"/>
<rect x="114.2" y="100.8" width="5.8" height="5.8" fill="#000080"/>
<rect x="119.2" y="101.7" width="5.8" height="5.8" fill="#000080"/>
<rect x="124.1" y="102.4" width="5.8" height="5.8" fill="#000080"/>
<rect x="129.0" y="103.1" width="5.8" height="5.8" fill="#000080"/>
<rect x="133.9" y="103.8" width="5.8" height="5.8" fill="#000080"/>
<rect x="138.8" y="104.5" width="5.8" height="5.8" fill="#000080"/>
<rect x="143.7" y="105.2" width="5.8" height="5.8" fill="#000080"/>
<rect x="148.6" y="105.9" width="5.8" height="5.8" fill="#000080"/>
<rect x="153.6" y="106.6" width="5.8" height="5.8" fill="#000080"/>
<rect x="158.5" y="107.2" width="5.8" height="5.8" fill="#000080"/>
<rect x="163.4" y="107.6" width="5.8" height="5.8" fill="#000080"/>
<rect x="168.3" y="108.1" width="5.8" height="5.8" fill="#000080"/>
<rect x="173.2" y="108.5" width="5.8" height="5.8" fill="#000080"/>
<rect x="178.1" y="108.9" width="5.8" height="5.8" fill="#000080"/>
<rect x="183.0" y="114.7" width="5.8" height="5.8" fill="#000080"/>
<rect x="187.9" y="110.4" width="5.8" height="5.8" fill="#000080"/>
<rect x="192.9" y="111.0" width="5.8" height="5.8" fill="#000080"/>
<rect x="197.8" y="111.7" width="5.8" height="5.8" fill="#000080"/>
<rect x="202.7" y="112.3" width="5.8" height="5.8" fill="#000080"/>
<rect x="207.6" y="113.0" width="5.8" height="5.8" fill="#000080"/>
<rect x="212.5" y="112.6" width="5.8" height="5.8" fill="#000080"/>
<rect x="217.4" y="113.7" width="5.8" height="5.8" fill="#000080"/>
<rect x="222.3" y="116.6" width="5.8" height="5.8" fill="#000080"/>
<rect x="227.3" y="115.7" width="5.8" height="5.8" fill="#000080"/>
<rect x="232.2" y="116.1" width="5.8" height="5.8" fill="#000080"/>
<rect x="237.1" y="115.4" width="5.8" height="5.8" fill="#000080"/>
<rect x="242.0" y="117.6" width="5.8" height="5.8" fill="#000080"/>
<rect x="246.9" y="116.6" width="5.8" height="5.8" fill="#000080"/>
<rect x="251.8" y="117.1" width="5.8" height="5.8" fill="#000080"/>
<rect x="256.7" y="117.6" width="5.8" height="5.8" fill="#000080"/>
<rect x="261.7" y="117.8" width="5.8" height="5.8" fill="#000080"/>
<rect x="266.6" y="118.0" width="5.8" height="5.8" fill="#000080"/>
<rect x="271.5" y="119.5" width="5.8" height="5.8" fill="#000080"/>
<rect x="276.4" y="118.1" width="5.8" height="5.8" fill="#000080"/>
<rect x="281.3" y="118.6" width="5.8" height="5.8" fill="#000080"/>
<rect x="286.2" y="119.0" width="5.8" height="5.8" fill="#000080"/>
<rect x="291.1" y="119.5" width="5.8" height="5.8" fill="#000080"/>
<rect x="296.1" y="120.0" width="5.8" height="5.8" fill="#000080"/>
<rect x="301.0" y="120.5" width="5.8" height="5.8" fill="#000080"/>
<rect x="305.9" y="121.0" width="5.8" height="5.8" fill="#000080"/>
<rect x="310.8" y="121.5" width="5.8" height="5.8" fill="#000080"/>
<polyline points="72.9,173.0 77.8,79.2 82.7,88.2 87.7,97.6 92.6,121.5 97.5,109.0 102.4,115.0 107.3,121.5 112.2,108.0 117.1,100.2 122.1,95.3 127.0,90.0 131.9,79.0 136.8,82.0 141.7,79.0 146.6,71.0 151.5,71.4 156.5,72.6 161.4,69.8 166.3,68.1 171.2,67.4 176.1,69.0 181.0,67.5 185.9,64.6 190.8,60.7 195.8,64.6 200.7,60.7 205.6,66.5 210.5,60.7 215.4,52.0 220.3,68.4 225.2,47.1 230.2,55.0 235.1,61.7 240.0,60.7 244.9,61.7 249.8,56.8 254.7,64.6 259.6,61.7 264.6,63.6 269.5,66.5 274.4,40.3 279.3,38.4 284.2,52.0 289.1,24.8 294.0,45.2 299.0,54.0 303.9,50.0 308.8,52.0 313.7,68.4" fill="none" stroke="#000" stroke-width="1.5" stroke-linejoin="miter" />
<polyline points="72.9,158.0 77.8,51.0 82.7,66.5 87.7,40.5 92.6,15.0 97.5,41.7 102.4,68.4 107.3,27.8 112.2,46.0 117.1,27.8 122.1,55.9 127.0,39.4 131.9,36.5 136.8,48.0 141.7,41.0 146.6,15.0 151.5,37.4 156.5,39.4 161.4,48.1 166.3,24.8 171.2,40.3 176.1,48.1 181.0,31.6 185.9,56.0 190.8,12.0 195.8,12.0 200.7,45.0 205.6,66.5 210.5,12.0 215.4,31.6 220.3,38.4 225.2,37.0 230.2,37.0 235.1,36.0 240.0,36.5 244.9,37.0 249.8,34.5 254.7,36.5 259.6,38.5 264.6,38.5 269.5,38.5 274.4,38.5 279.3,37.0 284.2,38.0 289.1,38.9 294.0,38.0 299.0,37.0 303.9,38.0 308.8,39.0 313.7,40.9 318.6,37.0" fill="none" stroke="#ff0000" stroke-width="1.5" stroke-linejoin="miter" />
<polyline points="72.9,159.5 77.8,68.4 82.7,66.5 87.7,50.0 92.6,44.2 97.5,40.3 102.4,38.4 107.3,38.4 112.2,39.4 117.1,37.8 122.1,47.1 127.0,38.4 131.9,36.5 136.8,37.0 141.7,37.8 146.6,36.5 151.5,37.5 156.5,37.5 161.4,37.8 166.3,37.5 171.2,37.5 176.1,37.5 181.0,37.3 185.9,37.3 190.8,37.2 195.8,37.2 200.7,37.2 205.6,37.2 210.5,37.2 215.4,37.2 220.3,37.5 225.2,37.8 230.2,38.0 235.1,38.0 240.0,38.0 244.9,38.0 249.8,38.0 254.7,39.4 259.6,38.5 264.6,38.4 269.5,38.4 274.4,38.4 279.3,38.4 284.2,38.3 289.1,38.3 294.0,38.3 299.0,38.3 303.9,38.3 308.8,38.3 313.7,38.3" fill="none" stroke="#008000" stroke-width="1.5" stroke-linejoin="miter" />
<polyline points="72.9,160.0 77.8,61.7 82.7,54.9 87.7,40.3 92.6,38.4 97.5,37.0 102.4,37.4 107.3,36.5 112.2,35.9 117.1,35.9 122.1,35.5 127.0,34.9 131.9,34.1 136.8,33.2 141.7,34.5 146.6,36.5 151.5,32.6 156.5,34.5 161.4,34.0 166.3,33.2 171.2,32.6 176.1,34.0 181.0,32.0 185.9,62.6 190.8,12.0 195.8,27.0 200.7,35.1 205.6,34.5 210.5,38.0 215.4,25.8 220.3,34.5 225.2,49.0 230.2,12.0 235.1,39.4 240.0,12.0 244.9,55.9 249.8,12.0 254.7,31.6 259.6,37.4 264.6,26.8 269.5,32.6 274.4,37.4 279.3,26.8 284.2,32.6 289.1,32.0 294.0,33.2 299.0,33.2 303.9,33.2 308.8,32.6 313.7,33.6" fill="none" stroke="#0a0ab4" stroke-width="1.5" stroke-linejoin="miter" />
</g>
<polyline points="283,54.5 283,67.8 299,67.8" fill="none" stroke="#000" stroke-width="1.5"/>
<polygon points="298,64.8 306,67.8 298,70.8" fill="#000"/>
<rect x="223.3" y="79.3" width="5.4" height="5.4" fill="#000"/>
<text x="240.8" y="85.3" font-size="14" text-anchor="start" fill="#000" font-weight="bold" textLength="65.5" lengthAdjust="spacingAndGlyphs">n/p 0.8-1.0</text>
<rect x="223.3" y="96.3" width="5.4" height="5.4" fill="#ff0000"/>
<text x="242.0" y="102.3" font-size="14" text-anchor="start" fill="#000" font-weight="bold" textLength="65.5" lengthAdjust="spacingAndGlyphs">n/p 1.1-1.3</text>
<rect x="222.8" y="161.3" width="5.4" height="5.4" fill="#008000"/>
<text x="241.5" y="167.7" font-size="14" text-anchor="start" fill="#000" font-weight="bold" textLength="65.5" lengthAdjust="spacingAndGlyphs">n/p 1.4-2.5</text>
<rect x="222.8" y="179.3" width="5.4" height="5.4" fill="#000080"/>
<text x="240.8" y="185.7" font-size="14" text-anchor="start" fill="#000" font-weight="bold" textLength="65.5" lengthAdjust="spacingAndGlyphs">n/p 3.0-3.2</text>
<rect x="68.0" y="22.0" width="245.7" height="188.0" fill="none" stroke="#000" stroke-width="1.6"/>
<line x1="64.0" y1="210.0" x2="68.0" y2="210.0" stroke="#000" stroke-width="1.4"/>
<text x="61.8" y="214.1" font-size="14.2" text-anchor="end" fill="#000" font-weight="bold" textLength="7.50" lengthAdjust="spacingAndGlyphs">0</text>
<line x1="65.8" y1="201.5" x2="68.0" y2="201.5" stroke="#000" stroke-width="1.4"/>
<line x1="64.0" y1="192.9" x2="68.0" y2="192.9" stroke="#000" stroke-width="1.4"/>
<text x="61.8" y="197.0" font-size="14.2" text-anchor="end" fill="#000" font-weight="bold" textLength="15.01" lengthAdjust="spacingAndGlyphs">20</text>
<line x1="65.8" y1="184.4" x2="68.0" y2="184.4" stroke="#000" stroke-width="1.4"/>
<line x1="64.0" y1="175.8" x2="68.0" y2="175.8" stroke="#000" stroke-width="1.4"/>
<text x="61.8" y="179.9" font-size="14.2" text-anchor="end" fill="#000" font-weight="bold" textLength="15.01" lengthAdjust="spacingAndGlyphs">40</text>
<line x1="65.8" y1="167.3" x2="68.0" y2="167.3" stroke="#000" stroke-width="1.4"/>
<line x1="64.0" y1="158.7" x2="68.0" y2="158.7" stroke="#000" stroke-width="1.4"/>
<text x="61.8" y="162.8" font-size="14.2" text-anchor="end" fill="#000" font-weight="bold" textLength="15.01" lengthAdjust="spacingAndGlyphs">60</text>
<line x1="65.8" y1="150.2" x2="68.0" y2="150.2" stroke="#000" stroke-width="1.4"/>
<line x1="64.0" y1="141.6" x2="68.0" y2="141.6" stroke="#000" stroke-width="1.4"/>
<text x="61.8" y="145.7" font-size="14.2" text-anchor="end" fill="#000" font-weight="bold" textLength="15.01" lengthAdjust="spacingAndGlyphs">80</text>
<line x1="65.8" y1="133.1" x2="68.0" y2="133.1" stroke="#000" stroke-width="1.4"/>
<line x1="64.0" y1="124.5" x2="68.0" y2="124.5" stroke="#000" stroke-width="1.4"/>
<text x="61.8" y="128.6" font-size="14.2" text-anchor="end" fill="#000" font-weight="bold" textLength="22.51" lengthAdjust="spacingAndGlyphs">100</text>
<line x1="65.8" y1="116.0" x2="68.0" y2="116.0" stroke="#000" stroke-width="1.4"/>
<line x1="64.0" y1="107.5" x2="68.0" y2="107.5" stroke="#000" stroke-width="1.4"/>
<text x="61.8" y="111.6" font-size="14.2" text-anchor="end" fill="#000" font-weight="bold" textLength="22.51" lengthAdjust="spacingAndGlyphs">120</text>
<line x1="65.8" y1="98.9" x2="68.0" y2="98.9" stroke="#000" stroke-width="1.4"/>
<line x1="64.0" y1="90.4" x2="68.0" y2="90.4" stroke="#000" stroke-width="1.4"/>
<text x="61.8" y="94.5" font-size="14.2" text-anchor="end" fill="#000" font-weight="bold" textLength="22.51" lengthAdjust="spacingAndGlyphs">140</text>
<line x1="65.8" y1="81.8" x2="68.0" y2="81.8" stroke="#000" stroke-width="1.4"/>
<line x1="64.0" y1="73.3" x2="68.0" y2="73.3" stroke="#000" stroke-width="1.4"/>
<text x="61.8" y="77.4" font-size="14.2" text-anchor="end" fill="#000" font-weight="bold" textLength="22.51" lengthAdjust="spacingAndGlyphs">160</text>
<line x1="65.8" y1="64.7" x2="68.0" y2="64.7" stroke="#000" stroke-width="1.4"/>
<line x1="64.0" y1="56.2" x2="68.0" y2="56.2" stroke="#000" stroke-width="1.4"/>
<text x="61.8" y="60.3" font-size="14.2" text-anchor="end" fill="#000" font-weight="bold" textLength="22.51" lengthAdjust="spacingAndGlyphs">180</text>
<line x1="65.8" y1="47.6" x2="68.0" y2="47.6" stroke="#000" stroke-width="1.4"/>
<line x1="64.0" y1="39.1" x2="68.0" y2="39.1" stroke="#000" stroke-width="1.4"/>
<text x="61.8" y="43.2" font-size="14.2" text-anchor="end" fill="#000" font-weight="bold" textLength="22.51" lengthAdjust="spacingAndGlyphs">200</text>
<line x1="65.8" y1="30.5" x2="68.0" y2="30.5" stroke="#000" stroke-width="1.4"/>
<line x1="64.0" y1="22.0" x2="68.0" y2="22.0" stroke="#000" stroke-width="1.4"/>
<text x="61.8" y="26.1" font-size="14.2" text-anchor="end" fill="#000" font-weight="bold" textLength="22.51" lengthAdjust="spacingAndGlyphs">220</text>
<line x1="68.0" y1="210.0" x2="68.0" y2="214.0" stroke="#000" stroke-width="1.4"/>
<text x="68.0" y="227.6" font-size="14.2" text-anchor="middle" fill="#000" font-weight="bold" textLength="7.50" lengthAdjust="spacingAndGlyphs">0</text>
<line x1="80.3" y1="210.0" x2="80.3" y2="212.2" stroke="#000" stroke-width="1.4"/>
<line x1="92.6" y1="210.0" x2="92.6" y2="214.0" stroke="#000" stroke-width="1.4"/>
<text x="92.6" y="227.6" font-size="14.2" text-anchor="middle" fill="#000" font-weight="bold" textLength="7.50" lengthAdjust="spacingAndGlyphs">5</text>
<line x1="104.9" y1="210.0" x2="104.9" y2="212.2" stroke="#000" stroke-width="1.4"/>
<line x1="117.1" y1="210.0" x2="117.1" y2="214.0" stroke="#000" stroke-width="1.4"/>
<text x="117.1" y="227.6" font-size="14.2" text-anchor="middle" fill="#000" font-weight="bold" textLength="15.01" lengthAdjust="spacingAndGlyphs">10</text>
<line x1="129.4" y1="210.0" x2="129.4" y2="212.2" stroke="#000" stroke-width="1.4"/>
<line x1="141.7" y1="210.0" x2="141.7" y2="214.0" stroke="#000" stroke-width="1.4"/>
<text x="141.7" y="227.6" font-size="14.2" text-anchor="middle" fill="#000" font-weight="bold" textLength="15.01" lengthAdjust="spacingAndGlyphs">15</text>
<line x1="154.0" y1="210.0" x2="154.0" y2="212.2" stroke="#000" stroke-width="1.4"/>
<line x1="166.3" y1="210.0" x2="166.3" y2="214.0" stroke="#000" stroke-width="1.4"/>
<text x="166.3" y="227.6" font-size="14.2" text-anchor="middle" fill="#000" font-weight="bold" textLength="15.01" lengthAdjust="spacingAndGlyphs">20</text>
<line x1="178.6" y1="210.0" x2="178.6" y2="212.2" stroke="#000" stroke-width="1.4"/>
<line x1="190.8" y1="210.0" x2="190.8" y2="214.0" stroke="#000" stroke-width="1.4"/>
<text x="190.8" y="227.6" font-size="14.2" text-anchor="middle" fill="#000" font-weight="bold" textLength="15.01" lengthAdjust="spacingAndGlyphs">25</text>
<line x1="203.1" y1="210.0" x2="203.1" y2="212.2" stroke="#000" stroke-width="1.4"/>
<line x1="215.4" y1="210.0" x2="215.4" y2="214.0" stroke="#000" stroke-width="1.4"/>
<text x="215.4" y="227.6" font-size="14.2" text-anchor="middle" fill="#000" font-weight="bold" textLength="15.01" lengthAdjust="spacingAndGlyphs">30</text>
<line x1="227.7" y1="210.0" x2="227.7" y2="212.2" stroke="#000" stroke-width="1.4"/>
<line x1="240.0" y1="210.0" x2="240.0" y2="214.0" stroke="#000" stroke-width="1.4"/>
<text x="240.0" y="227.6" font-size="14.2" text-anchor="middle" fill="#000" font-weight="bold" textLength="15.01" lengthAdjust="spacingAndGlyphs">35</text>
<line x1="252.3" y1="210.0" x2="252.3" y2="212.2" stroke="#000" stroke-width="1.4"/>
<line x1="264.6" y1="210.0" x2="264.6" y2="214.0" stroke="#000" stroke-width="1.4"/>
<text x="264.6" y="227.6" font-size="14.2" text-anchor="middle" fill="#000" font-weight="bold" textLength="15.01" lengthAdjust="spacingAndGlyphs">40</text>
<line x1="276.8" y1="210.0" x2="276.8" y2="212.2" stroke="#000" stroke-width="1.4"/>
<line x1="289.1" y1="210.0" x2="289.1" y2="214.0" stroke="#000" stroke-width="1.4"/>
<text x="289.1" y="227.6" font-size="14.2" text-anchor="middle" fill="#000" font-weight="bold" textLength="15.01" lengthAdjust="spacingAndGlyphs">45</text>
<line x1="301.4" y1="210.0" x2="301.4" y2="212.2" stroke="#000" stroke-width="1.4"/>
<line x1="313.7" y1="210.0" x2="313.7" y2="214.0" stroke="#000" stroke-width="1.4"/>
<text x="313.7" y="227.6" font-size="14.2" text-anchor="middle" fill="#000" font-weight="bold" textLength="15.01" lengthAdjust="spacingAndGlyphs">50</text>
<line x1="313.7" y1="210.0" x2="316.9" y2="210.0" stroke="#000" stroke-width="1.3"/>
<text x="320.2" y="214.9" font-size="14.2" text-anchor="start" fill="#000" font-weight="bold" textLength="15.01" lengthAdjust="spacingAndGlyphs">70</text>
<line x1="313.7" y1="203.9" x2="315.5" y2="203.9" stroke="#000" stroke-width="1.3"/>
<line x1="313.7" y1="197.8" x2="315.5" y2="197.8" stroke="#000" stroke-width="1.3"/>
<line x1="313.7" y1="191.8" x2="315.5" y2="191.8" stroke="#000" stroke-width="1.3"/>
<line x1="313.7" y1="185.7" x2="315.5" y2="185.7" stroke="#000" stroke-width="1.3"/>
<line x1="313.7" y1="179.6" x2="316.9" y2="179.6" stroke="#000" stroke-width="1.3"/>
<text x="320.2" y="184.5" font-size="14.2" text-anchor="start" fill="#000" font-weight="bold" textLength="15.01" lengthAdjust="spacingAndGlyphs">75</text>
<line x1="313.7" y1="173.5" x2="315.5" y2="173.5" stroke="#000" stroke-width="1.3"/>
<line x1="313.7" y1="167.4" x2="315.5" y2="167.4" stroke="#000" stroke-width="1.3"/>
<line x1="313.7" y1="161.4" x2="315.5" y2="161.4" stroke="#000" stroke-width="1.3"/>
<line x1="313.7" y1="155.3" x2="315.5" y2="155.3" stroke="#000" stroke-width="1.3"/>
<line x1="313.7" y1="149.2" x2="316.9" y2="149.2" stroke="#000" stroke-width="1.3"/>
<text x="320.2" y="154.1" font-size="14.2" text-anchor="start" fill="#000" font-weight="bold" textLength="15.01" lengthAdjust="spacingAndGlyphs">80</text>
<line x1="313.7" y1="143.1" x2="315.5" y2="143.1" stroke="#000" stroke-width="1.3"/>
<line x1="313.7" y1="137.0" x2="315.5" y2="137.0" stroke="#000" stroke-width="1.3"/>
<line x1="313.7" y1="131.0" x2="315.5" y2="131.0" stroke="#000" stroke-width="1.3"/>
<line x1="313.7" y1="124.9" x2="315.5" y2="124.9" stroke="#000" stroke-width="1.3"/>
<line x1="313.7" y1="118.8" x2="316.9" y2="118.8" stroke="#000" stroke-width="1.3"/>
<text x="320.2" y="123.7" font-size="14.2" text-anchor="start" fill="#000" font-weight="bold" textLength="15.01" lengthAdjust="spacingAndGlyphs">85</text>
<line x1="313.7" y1="112.7" x2="315.5" y2="112.7" stroke="#000" stroke-width="1.3"/>
<line x1="313.7" y1="106.6" x2="315.5" y2="106.6" stroke="#000" stroke-width="1.3"/>
<line x1="313.7" y1="100.6" x2="315.5" y2="100.6" stroke="#000" stroke-width="1.3"/>
<line x1="313.7" y1="94.5" x2="315.5" y2="94.5" stroke="#000" stroke-width="1.3"/>
<line x1="313.7" y1="88.4" x2="316.9" y2="88.4" stroke="#000" stroke-width="1.3"/>
<text x="320.2" y="93.3" font-size="14.2" text-anchor="start" fill="#000" font-weight="bold" textLength="15.01" lengthAdjust="spacingAndGlyphs">90</text>
<line x1="313.7" y1="82.3" x2="315.5" y2="82.3" stroke="#000" stroke-width="1.3"/>
<line x1="313.7" y1="76.2" x2="315.5" y2="76.2" stroke="#000" stroke-width="1.3"/>
<line x1="313.7" y1="70.2" x2="315.5" y2="70.2" stroke="#000" stroke-width="1.3"/>
<line x1="313.7" y1="64.1" x2="315.5" y2="64.1" stroke="#000" stroke-width="1.3"/>
<line x1="313.7" y1="58.0" x2="316.9" y2="58.0" stroke="#000" stroke-width="1.3"/>
<text x="320.2" y="62.9" font-size="14.2" text-anchor="start" fill="#000" font-weight="bold" textLength="15.01" lengthAdjust="spacingAndGlyphs">95</text>
<line x1="313.7" y1="51.9" x2="315.5" y2="51.9" stroke="#000" stroke-width="1.3"/>
<line x1="313.7" y1="45.8" x2="315.5" y2="45.8" stroke="#000" stroke-width="1.3"/>
<line x1="313.7" y1="39.8" x2="315.5" y2="39.8" stroke="#000" stroke-width="1.3"/>
<line x1="313.7" y1="33.7" x2="315.5" y2="33.7" stroke="#000" stroke-width="1.3"/>
<line x1="313.7" y1="27.6" x2="316.9" y2="27.6" stroke="#000" stroke-width="1.3"/>
<text x="320.2" y="32.5" font-size="14.2" text-anchor="start" fill="#000" font-weight="bold" textLength="22.51" lengthAdjust="spacingAndGlyphs">100</text>
<text x="188.6" y="253.1" font-size="16" text-anchor="middle" fill="#000" font-weight="bold" >Cycle</text>
<text transform="translate(28,186) rotate(-90)" font-size="16.2" font-weight="bold" fill="#000">Capacity / mAh g<tspan font-size="8.5" dy="-8.7">-1</tspan><tspan font-size="9" dy="12.7" dx="-7.6">NMC</tspan></text>
<text transform="translate(357.8,142.3) rotate(-90)" font-size="15.3" font-weight="bold" fill="#000">CE / %</text>
<text x="1.8" y="15.3" font-size="18.2" text-anchor="start" fill="#000" font-weight="normal" stroke="#000" stroke-width="0.55">a)</text>
<defs><clipPath id="cb"><rect x="436.5" y="22.0" width="244.5" height="188.0"/></clipPath></defs>
<g clip-path="url(#cb)">
<line x1="448" y1="47.3" x2="667.5" y2="30.7" stroke="#000" stroke-width="1.8" stroke-dasharray="1.6 1.6"/>
<line x1="449" y1="134.3" x2="668" y2="131.3" stroke="#ff0000" stroke-width="1.8" stroke-dasharray="1.6 1.6"/>
<rect x="443.0" y="43.6" width="5.6" height="5.6" fill="#000"/>
<rect x="452.0" y="44.1" width="5.6" height="5.6" fill="#000"/>
<rect x="461.5" y="42.2" width="5.6" height="5.6" fill="#000"/>
<rect x="470.8" y="44.3" width="5.6" height="5.6" fill="#000"/>
<rect x="480.2" y="44.6" width="5.6" height="5.6" fill="#000"/>
<rect x="490.1" y="43.6" width="5.6" height="5.6" fill="#000"/>
<rect x="499.2" y="34.7" width="5.6" height="5.6" fill="#000"/>
<rect x="499.2" y="38.4" width="5.6" height="5.6" fill="#000"/>
<rect x="499.2" y="47.3" width="5.6" height="5.6" fill="#000"/>
<rect x="508.8" y="34.7" width="5.6" height="5.6" fill="#000"/>
<rect x="508.8" y="37.5" width="5.6" height="5.6" fill="#000"/>
<rect x="527.8" y="39.2" width="5.6" height="5.6" fill="#000"/>
<rect x="536.7" y="36.7" width="5.6" height="5.6" fill="#000"/>
<rect x="546.2" y="37.8" width="5.6" height="5.6" fill="#000"/>
<rect x="555.4" y="33.7" width="5.6" height="5.6" fill="#000"/>
<rect x="564.9" y="28.9" width="5.6" height="5.6" fill="#000"/>
<rect x="602.9" y="31.2" width="5.6" height="5.6" fill="#000"/>
<rect x="649.6" y="31.5" width="5.6" height="5.6" fill="#000"/>
<rect x="668.8" y="30.8" width="5.6" height="5.6" fill="#000"/>
<rect x="443.7" y="130.9" width="4.4" height="4.4" fill="#ff0000"/>
<rect x="462.1" y="139.0" width="4.4" height="4.4" fill="#ff0000"/>
<rect x="462.1" y="142.3" width="4.4" height="4.4" fill="#ff0000"/>
<rect x="471.8" y="122.1" width="4.4" height="4.4" fill="#ff0000"/>
<rect x="481.1" y="117.8" width="4.4" height="4.4" fill="#ff0000"/>
<rect x="490.3" y="124.5" width="4.4" height="4.4" fill="#ff0000"/>
<rect x="500.0" y="129.0" width="4.4" height="4.4" fill="#ff0000"/>
<rect x="500.0" y="144.4" width="4.4" height="4.4" fill="#ff0000"/>
<rect x="509.3" y="125.0" width="4.4" height="4.4" fill="#ff0000"/>
<rect x="518.2" y="126.5" width="4.4" height="4.4" fill="#ff0000"/>
<rect x="527.8" y="144.4" width="4.4" height="4.4" fill="#ff0000"/>
<rect x="547.0" y="118.1" width="4.4" height="4.4" fill="#ff0000"/>
<rect x="556.8" y="140.9" width="4.4" height="4.4" fill="#ff0000"/>
<rect x="565.6" y="151.7" width="4.4" height="4.4" fill="#ff0000"/>
<rect x="603.6" y="124.6" width="4.4" height="4.4" fill="#ff0000"/>
<rect x="650.8" y="121.6" width="4.4" height="4.4" fill="#ff0000"/>
<rect x="669.6" y="129.3" width="4.4" height="4.4" fill="#ff0000"/>
</g>
<polyline points="436.5,22.0 436.5,210.0 681.0,210.0" fill="none" stroke="#000" stroke-width="1.6"/>
<line x1="436.5" y1="22.0" x2="681.0" y2="22.0" stroke="#000" stroke-width="1.6"/>
<line x1="681.0" y1="21.2" x2="681.0" y2="210.8" stroke="#ff0000" stroke-width="1.6"/>
<line x1="432.5" y1="210.0" x2="436.5" y2="210.0" stroke="#000" stroke-width="1.4"/>
<text x="430.5" y="214.9" font-size="14.2" text-anchor="end" fill="#000" font-weight="bold" textLength="7.50" lengthAdjust="spacingAndGlyphs">0</text>
<line x1="434.3" y1="200.6" x2="436.5" y2="200.6" stroke="#000" stroke-width="1.4"/>
<line x1="432.5" y1="191.2" x2="436.5" y2="191.2" stroke="#000" stroke-width="1.4"/>
<text x="430.5" y="196.1" font-size="14.2" text-anchor="end" fill="#000" font-weight="bold" textLength="15.01" lengthAdjust="spacingAndGlyphs">20</text>
<line x1="434.3" y1="181.8" x2="436.5" y2="181.8" stroke="#000" stroke-width="1.4"/>
<line x1="432.5" y1="172.4" x2="436.5" y2="172.4" stroke="#000" stroke-width="1.4"/>
<text x="430.5" y="177.3" font-size="14.2" text-anchor="end" fill="#000" font-weight="bold" textLength="15.01" lengthAdjust="spacingAndGlyphs">40</text>
<line x1="434.3" y1="163.0" x2="436.5" y2="163.0" stroke="#000" stroke-width="1.4"/>
<line x1="432.5" y1="153.6" x2="436.5" y2="153.6" stroke="#000" stroke-width="1.4"/>
<text x="430.5" y="158.5" font-size="14.2" text-anchor="end" fill="#000" font-weight="bold" textLength="15.01" lengthAdjust="spacingAndGlyphs">60</text>
<line x1="434.3" y1="144.2" x2="436.5" y2="144.2" stroke="#000" stroke-width="1.4"/>
<line x1="432.5" y1="134.8" x2="436.5" y2="134.8" stroke="#000" stroke-width="1.4"/>
<text x="430.5" y="139.7" font-size="14.2" text-anchor="end" fill="#000" font-weight="bold" textLength="15.01" lengthAdjust="spacingAndGlyphs">80</text>
<line x1="434.3" y1="125.4" x2="436.5" y2="125.4" stroke="#000" stroke-width="1.4"/>
<line x1="432.5" y1="116.0" x2="436.5" y2="116.0" stroke="#000" stroke-width="1.4"/>
<text x="430.5" y="120.9" font-size="14.2" text-anchor="end" fill="#000" font-weight="bold" textLength="22.51" lengthAdjust="spacingAndGlyphs">100</text>
<line x1="434.3" y1="106.6" x2="436.5" y2="106.6" stroke="#000" stroke-width="1.4"/>
<line x1="432.5" y1="97.2" x2="436.5" y2="97.2" stroke="#000" stroke-width="1.4"/>
<text x="430.5" y="102.1" font-size="14.2" text-anchor="end" fill="#000" font-weight="bold" textLength="22.51" lengthAdjust="spacingAndGlyphs">120</text>
<line x1="434.3" y1="87.8" x2="436.5" y2="87.8" stroke="#000" stroke-width="1.4"/>
<line x1="432.5" y1="78.4" x2="436.5" y2="78.4" stroke="#000" stroke-width="1.4"/>
<text x="430.5" y="83.3" font-size="14.2" text-anchor="end" fill="#000" font-weight="bold" textLength="22.51" lengthAdjust="spacingAndGlyphs">140</text>
<line x1="434.3" y1="69.0" x2="436.5" y2="69.0" stroke="#000" stroke-width="1.4"/>
<line x1="432.5" y1="59.6" x2="436.5" y2="59.6" stroke="#000" stroke-width="1.4"/>
<text x="430.5" y="64.5" font-size="14.2" text-anchor="end" fill="#000" font-weight="bold" textLength="22.51" lengthAdjust="spacingAndGlyphs">160</text>
<line x1="434.3" y1="50.2" x2="436.5" y2="50.2" stroke="#000" stroke-width="1.4"/>
<line x1="432.5" y1="40.8" x2="436.5" y2="40.8" stroke="#000" stroke-width="1.4"/>
<text x="430.5" y="45.7" font-size="14.2" text-anchor="end" fill="#000" font-weight="bold" textLength="22.51" lengthAdjust="spacingAndGlyphs">180</text>
<line x1="434.3" y1="31.4" x2="436.5" y2="31.4" stroke="#000" stroke-width="1.4"/>
<line x1="432.5" y1="22.0" x2="436.5" y2="22.0" stroke="#000" stroke-width="1.4"/>
<text x="430.5" y="26.9" font-size="14.2" text-anchor="end" fill="#000" font-weight="bold" textLength="22.51" lengthAdjust="spacingAndGlyphs">200</text>
<line x1="441.2" y1="210.0" x2="441.2" y2="212.2" stroke="#000" stroke-width="1.4"/>
<line x1="464.7" y1="210.0" x2="464.7" y2="214.0" stroke="#000" stroke-width="1.4"/>
<text x="464.7" y="226.5" font-size="14.2" text-anchor="middle" fill="#000" font-weight="bold" textLength="18.75" lengthAdjust="spacingAndGlyphs">1.0</text>
<line x1="488.2" y1="210.0" x2="488.2" y2="212.2" stroke="#000" stroke-width="1.4"/>
<line x1="511.7" y1="210.0" x2="511.7" y2="214.0" stroke="#000" stroke-width="1.4"/>
<text x="511.7" y="226.5" font-size="14.2" text-anchor="middle" fill="#000" font-weight="bold" textLength="18.75" lengthAdjust="spacingAndGlyphs">1.5</text>
<line x1="535.2" y1="210.0" x2="535.2" y2="212.2" stroke="#000" stroke-width="1.4"/>
<line x1="558.8" y1="210.0" x2="558.8" y2="214.0" stroke="#000" stroke-width="1.4"/>
<text x="558.8" y="226.5" font-size="14.2" text-anchor="middle" fill="#000" font-weight="bold" textLength="18.75" lengthAdjust="spacingAndGlyphs">2.0</text>
<line x1="582.3" y1="210.0" x2="582.3" y2="212.2" stroke="#000" stroke-width="1.4"/>
<line x1="605.8" y1="210.0" x2="605.8" y2="214.0" stroke="#000" stroke-width="1.4"/>
<text x="605.8" y="226.5" font-size="14.2" text-anchor="middle" fill="#000" font-weight="bold" textLength="18.75" lengthAdjust="spacingAndGlyphs">2.5</text>
<line x1="629.3" y1="210.0" x2="629.3" y2="212.2" stroke="#000" stroke-width="1.4"/>
<line x1="652.8" y1="210.0" x2="652.8" y2="214.0" stroke="#000" stroke-width="1.4"/>
<text x="652.8" y="226.5" font-size="14.2" text-anchor="middle" fill="#000" font-weight="bold" textLength="18.75" lengthAdjust="spacingAndGlyphs">3.0</text>
<line x1="676.3" y1="210.0" x2="676.3" y2="212.2" stroke="#000" stroke-width="1.4"/>
<line x1="681.0" y1="209.8" x2="684.5" y2="209.8" stroke="#ff0000" stroke-width="1.4"/>
<text x="687.2" y="214.1" font-size="14.2" text-anchor="start" fill="#ff0000" font-weight="bold" textLength="15.01" lengthAdjust="spacingAndGlyphs">60</text>
<line x1="681.0" y1="187.3" x2="684.5" y2="187.3" stroke="#ff0000" stroke-width="1.4"/>
<text x="687.2" y="191.6" font-size="14.2" text-anchor="start" fill="#ff0000" font-weight="bold" textLength="15.01" lengthAdjust="spacingAndGlyphs">65</text>
<line x1="681.0" y1="164.9" x2="684.5" y2="164.9" stroke="#ff0000" stroke-width="1.4"/>
<text x="687.2" y="169.2" font-size="14.2" text-anchor="start" fill="#ff0000" font-weight="bold" textLength="15.01" lengthAdjust="spacingAndGlyphs">70</text>
<line x1="681.0" y1="142.4" x2="684.5" y2="142.4" stroke="#ff0000" stroke-width="1.4"/>
<text x="687.2" y="146.7" font-size="14.2" text-anchor="start" fill="#ff0000" font-weight="bold" textLength="15.01" lengthAdjust="spacingAndGlyphs">75</text>
<line x1="681.0" y1="119.9" x2="684.5" y2="119.9" stroke="#ff0000" stroke-width="1.4"/>
<text x="687.2" y="124.2" font-size="14.2" text-anchor="start" fill="#ff0000" font-weight="bold" textLength="15.01" lengthAdjust="spacingAndGlyphs">80</text>
<line x1="681.0" y1="97.4" x2="684.5" y2="97.4" stroke="#ff0000" stroke-width="1.4"/>
<text x="687.2" y="101.7" font-size="14.2" text-anchor="start" fill="#ff0000" font-weight="bold" textLength="15.01" lengthAdjust="spacingAndGlyphs">85</text>
<line x1="681.0" y1="75.0" x2="684.5" y2="75.0" stroke="#ff0000" stroke-width="1.4"/>
<text x="687.2" y="79.3" font-size="14.2" text-anchor="start" fill="#ff0000" font-weight="bold" textLength="15.01" lengthAdjust="spacingAndGlyphs">90</text>
<line x1="681.0" y1="52.5" x2="684.5" y2="52.5" stroke="#ff0000" stroke-width="1.4"/>
<text x="687.2" y="56.8" font-size="14.2" text-anchor="start" fill="#ff0000" font-weight="bold" textLength="15.01" lengthAdjust="spacingAndGlyphs">95</text>
<line x1="681.0" y1="30.0" x2="684.5" y2="30.0" stroke="#ff0000" stroke-width="1.4"/>
<text x="687.2" y="34.3" font-size="14.2" text-anchor="start" fill="#ff0000" font-weight="bold" textLength="22.51" lengthAdjust="spacingAndGlyphs">100</text>
<line x1="681.0" y1="198.6" x2="683.0" y2="198.6" stroke="#ff0000" stroke-width="1.4"/>
<line x1="681.0" y1="176.1" x2="683.0" y2="176.1" stroke="#ff0000" stroke-width="1.4"/>
<line x1="681.0" y1="153.6" x2="683.0" y2="153.6" stroke="#ff0000" stroke-width="1.4"/>
<line x1="681.0" y1="131.1" x2="683.0" y2="131.1" stroke="#ff0000" stroke-width="1.4"/>
<line x1="681.0" y1="108.7" x2="683.0" y2="108.7" stroke="#ff0000" stroke-width="1.4"/>
<line x1="681.0" y1="86.2" x2="683.0" y2="86.2" stroke="#ff0000" stroke-width="1.4"/>
<line x1="681.0" y1="63.7" x2="683.0" y2="63.7" stroke="#ff0000" stroke-width="1.4"/>
<line x1="681.0" y1="41.2" x2="683.0" y2="41.2" stroke="#ff0000" stroke-width="1.4"/>
<text x="558.5" y="252.1" font-size="15.5" text-anchor="middle" fill="#000" font-weight="bold" >n/p</text>
<text transform="translate(394.8,240) rotate(-90)" font-size="14.7" font-weight="bold" fill="#000">1<tspan font-size="9.5" dy="-6">st</tspan><tspan dy="6" letter-spacing="0.62"> charge capacity / mAh g</tspan><tspan font-size="10" dy="-7.2" dx="0">-1</tspan><tspan font-size="9.5" dy="11.7" dx="-8.6">NMC</tspan></text>
<text transform="translate(723.2,147.6) rotate(-90)" font-size="16.2" font-weight="bold" fill="#ff0000">ICE / %</text>
<text x="370.3" y="15.2" font-size="18" text-anchor="start" fill="#000" font-weight="bold" letter-spacing="0.6">b)</text>
</svg></body></html>
